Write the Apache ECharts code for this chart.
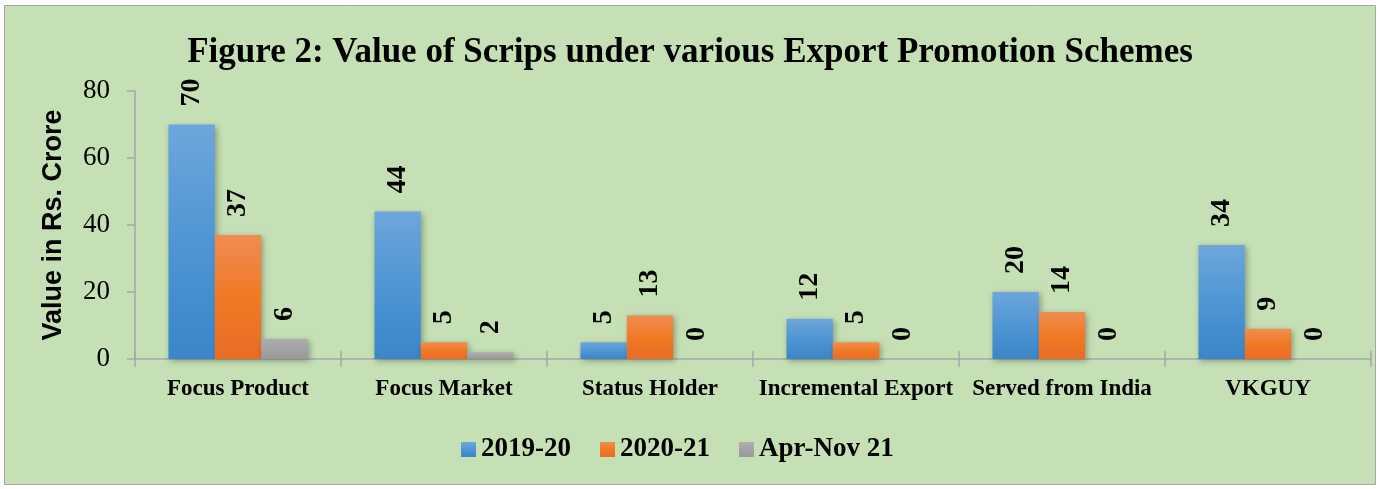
<!DOCTYPE html>
<html><head><meta charset="utf-8">
<script src="https://cdn.jsdelivr.net/npm/echarts@6/dist/echarts.min.js"></script>
<style>html,body{margin:0;padding:0;background:#fff}#c{width:1380px;height:489px}</style>
</head><body><div id="c"></div>
<script>
const categories = ['Focus Product','Focus Market','Status Holder','Incremental Export','Served from India','VKGUY'];
const s2019 = [70,44,5,12,20,34];
const s2020 = [37,5,13,5,14,9];
const sApr = [6,2,0,0,0,0];
const seriesNames = ['2019-20','2020-21','Apr-Nov 21'];
const yTicks = [0,20,40,60,80];

const serif = '"Liberation Serif","Times New Roman",serif';
function grad(top, mid, bot){
  return new echarts.graphic.LinearGradient(0,0,0,1,[{offset:0,color:top},{offset:0.5,color:mid},{offset:1,color:bot}]);
}
const colors = [grad('#6ea6dc','#4f96d3','#3a86c8'), grad('#f08c52','#f07a24','#e96c26'), grad('#acacac','#a3a3a3','#999999')];
const legendColors = [grad('#6ea6dc','#4f96d3','#3a86c8'), grad('#f08c52','#f07a24','#e96c26'), grad('#b0b0b0','#a3a3a3','#999999')];
const data = [s2019, s2020, sApr];

const chart = echarts.init(document.getElementById('c'));
chart.setOption({
  backgroundColor:'#ffffff',
  animation:false,
  graphic:[{type:'rect',z:-10,silent:true,shape:{x:4.5,y:5.5,width:1371,height:479},style:{fill:'#c5e0b4',stroke:'#a6a6a6',lineWidth:1}}],
  title:{text:'Figure 2: Value of Scrips under various Export Promotion Schemes',left:'center',top:30,
    textStyle:{fontFamily:serif,fontWeight:'bold',fontSize:35,color:'#000'}},
  legend:{bottom:21,left:456,itemWidth:15,itemHeight:15,itemGap:29,icon:'rect',
    textStyle:{fontFamily:serif,fontWeight:'bold',fontSize:27,color:'#000'},
    data:seriesNames.map((n,i)=>({name:n,itemStyle:{color:legendColors[i]}}))},
  grid:{left:135,right:9,top:91,bottom:130,containLabel:false},
  xAxis:[{type:'category',data:categories,
    axisLine:{lineStyle:{color:'#a6a6a6',width:1.5}},
    axisTick:{show:true,length:8,lineStyle:{color:'#a6a6a6',width:1.5}},
    axisLabel:{interval:0,fontFamily:serif,fontWeight:'bold',fontSize:23,color:'#000',margin:19}},
   {type:'category',data:categories,position:'bottom',
    axisLine:{show:false},
    axisTick:{show:true,inside:true,length:8,lineStyle:{color:'#a6a6a6',width:1.5}},
    axisLabel:{show:false}}],
  yAxis:{type:'value',min:0,max:80,interval:20,
    name:'Value in Rs. Crore',nameLocation:'middle',nameGap:68,
    nameTextStyle:{fontFamily:'"Liberation Sans",Arial,sans-serif',fontWeight:'bold',fontSize:27,color:'#000'},
    axisLine:{show:true,lineStyle:{color:'#a6a6a6',width:1.5}},
    axisTick:{show:true,length:8,lineStyle:{color:'#a6a6a6',width:1.5}},
    splitLine:{show:false},
    axisLabel:{fontFamily:serif,fontSize:27,color:'#000',margin:25,
      formatter:v=>yTicks.includes(v)?String(v):''}},
  series:seriesNames.map((n,i)=>({
    name:n,type:'bar',data:data[i],barGap:'0%',barCategoryGap:'32.5%',
    itemStyle:{color:colors[i],shadowBlur:6,shadowColor:'rgba(0,0,0,0.3)',shadowOffsetX:2,shadowOffsetY:2},
    label:{show:true,position:'top',rotate:90,align:'left',verticalAlign:'middle',distance:18,
      fontFamily:serif,fontWeight:'bold',fontSize:28,color:'#000'}
  }))
});
</script></body></html>
